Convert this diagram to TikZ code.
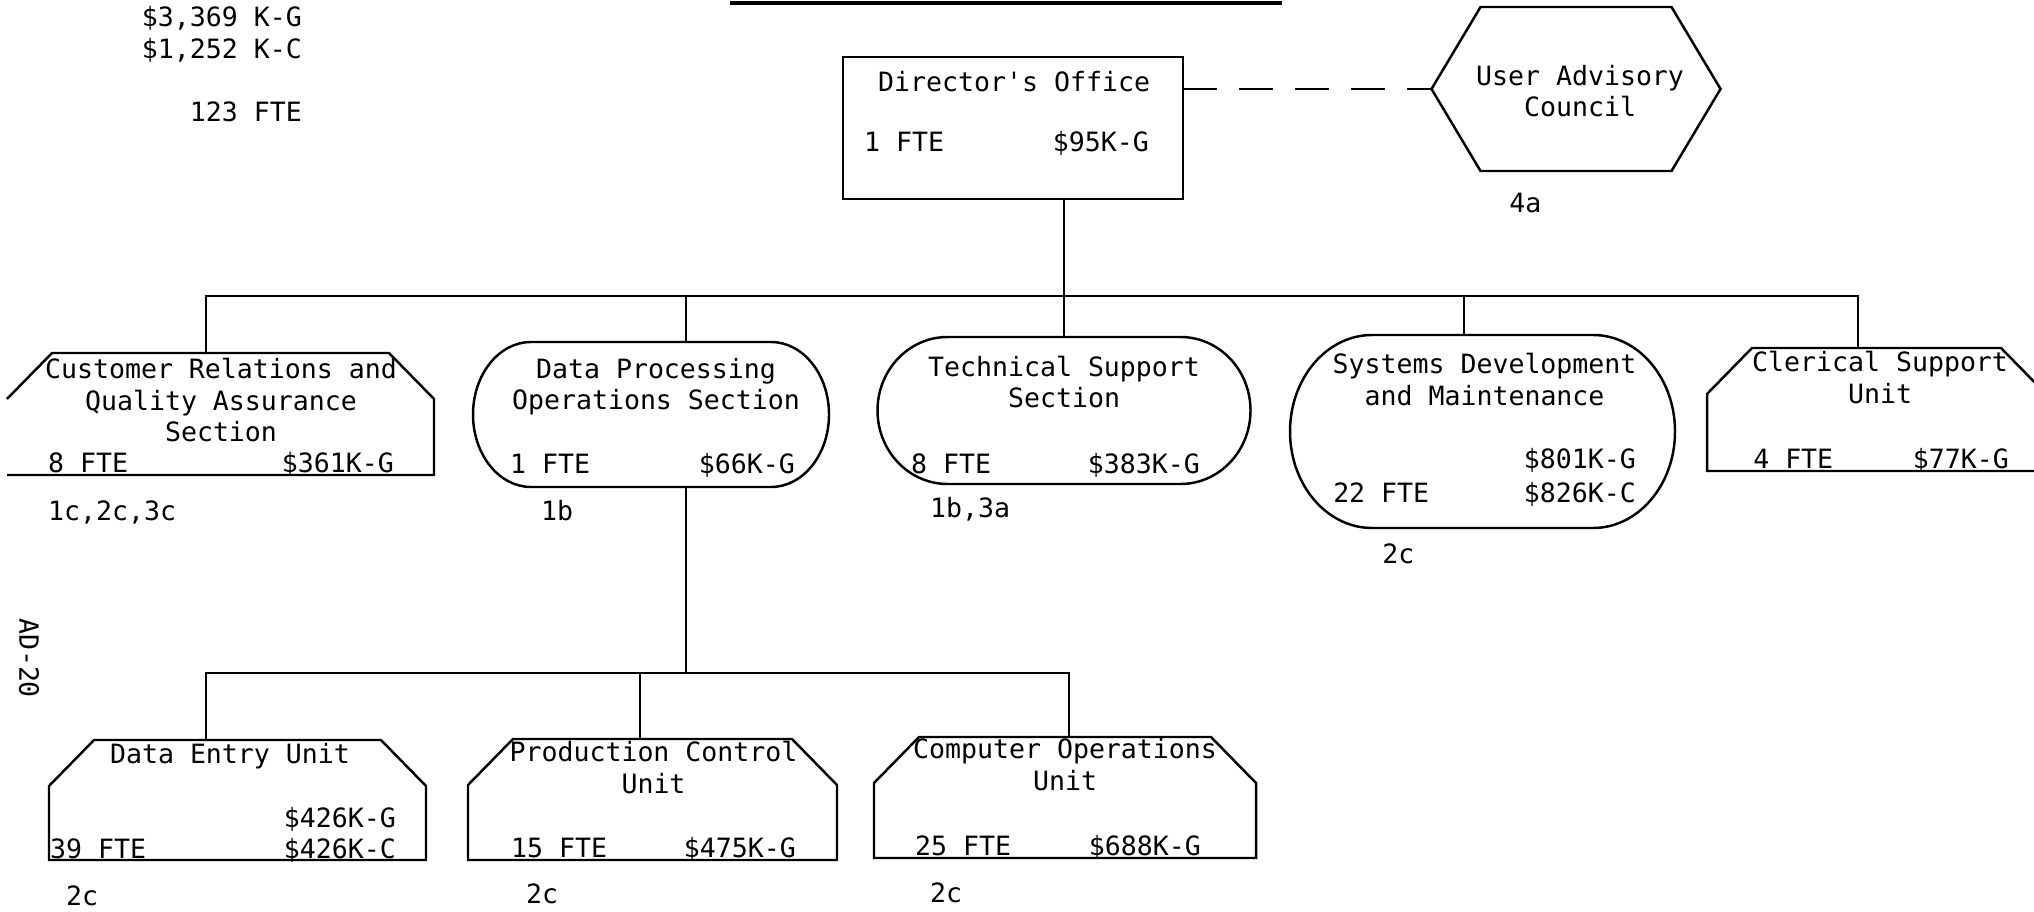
\documentclass[tikz,border=0pt]{standalone}
\usepackage{fontspec}
\setmonofont{DejaVu Sans Mono}
\usetikzlibrary{calc}

\begin{document}
\begin{tikzpicture}[x=0.1mm,y=-0.1mm,line width=0.7pt]
  \tikzstyle{unit}=[inner sep=0pt,outer sep=0pt]
  \tikzstyle{txt}=[font=\ttfamily\fontsize{7.56}{9.1}\selectfont,inner sep=0pt]
  \tikzstyle{link}=[dash pattern=on 3.4mm off 2.2mm]

  \clip (0,0) rectangle (2034,912);

  % totals and page mark
  \node[txt,align=right,anchor=base east] (total) at (303,122) {\$3,369 K-G\\\$1,252 K-C\\[9.1pt]123 FTE};
  \node[txt,rotate=-90] (page) at (29,658) {AD-20};
  \draw[line width=1.1pt] (730,3) -- (1282,3);

  % unit outlines
  \node[unit,draw,minimum width=34mm,minimum height=14.2mm] (dir) at (1013,128) {};
  \node[unit,minimum width=28.9mm,minimum height=16.4mm]    (uac) at (1576,89) {};
  \node[unit,minimum width=42.7mm,minimum height=12.2mm]    (cr)  at (220.5,414) {};
  \node[unit,minimum width=35.6mm,minimum height=14.5mm]    (dp)  at (651,414.5) {};
  \node[unit,minimum width=37.3mm,minimum height=14.7mm]    (ts)  at (1064,410.5) {};
  \node[unit,minimum width=38.5mm,minimum height=19.3mm]    (sd)  at (1482.5,431.5) {};
  \node[unit,minimum width=33.9mm,minimum height=12.3mm]    (cs)  at (1876.5,409.5) {};
  \node[unit,minimum width=37.7mm,minimum height=12.0mm]    (de)  at (237.5,800) {};
  \node[unit,minimum width=36.9mm,minimum height=12.1mm]    (pc)  at (652.5,799.5) {};
  \node[unit,minimum width=38.2mm,minimum height=12.1mm]    (co)  at (1065,797.5) {};

  \draw (uac.west) -- ($(uac.north west)+(49,0)$) -- ($(uac.north east)+(-49,0)$) -- (uac.east)
    -- ($(uac.south east)+(-49,0)$) -- ($(uac.south west)+(49,0)$) -- cycle;

  \foreach \n in {cs,de,pc,co}
    \draw ($(\n.north west)+(45,0)$) -- ($(\n.north east)+(-45,0)$) -- ($(\n.north east)+(0,46)$)
      -- (\n.south east) -- (\n.south west) -- ($(\n.north west)+(0,46)$) -- cycle;
  \draw ($(cr.north west)+(0,46)$) -- ($(cr.north west)+(45,0)$) -- ($(cr.north east)+(-45,0)$)
    -- ($(cr.north east)+(0,46)$) -- (cr.south east) -- (cr.south west);

  \foreach \n/\r in {dp/58,ts/70,sd/82}
    \draw ($(\n.north west)+(\r,0)$) -- ($(\n.north east)+(-\r,0)$)
      .. controls ($(\n.north east)+(-0.448*\r,0)$) and ($(\n.east)!0.552!(\n.north east)$) .. (\n.east)
      .. controls ($(\n.east)!0.552!(\n.south east)$) and ($(\n.south east)+(-0.448*\r,0)$) .. ($(\n.south east)+(-\r,0)$)
      -- ($(\n.south west)+(\r,0)$)
      .. controls ($(\n.south west)+(0.448*\r,0)$) and ($(\n.west)!0.552!(\n.south west)$) .. (\n.west)
      .. controls ($(\n.west)!0.552!(\n.north west)$) and ($(\n.north west)+(0.448*\r,0)$) .. ($(\n.north west)+(\r,0)$)
      -- cycle;

  % texts (a multi-line node sits on the baseline of its last line)
  \node[txt,anchor=base west] (dir-name) at (877,92)  {Director's Office};
  \node[txt,anchor=base west] (dir-fte)  at (863,152) {1 FTE};
  \node[txt,anchor=base east] (dir-g)    at (1150,152) {\$95K-G};

  \node[txt,align=center,anchor=base] (uac-name) at (1580,117) {User Advisory\\Council};
  \node[txt,anchor=base west] (uac-ref) at (1508,213) {4a};

  \node[txt,align=center,anchor=base] (cr-name) at (221,442) {Customer Relations and\\Quality Assurance\\Section};
  \node[txt,anchor=base west] (cr-fte) at (47,472)  {8 FTE};
  \node[txt,anchor=base east] (cr-g)   at (395,472) {\$361K-G};
  \node[txt,anchor=base west] (cr-ref) at (47,520)  {1c,2c,3c};

  \node[txt,align=center,anchor=base] (dp-name) at (656,410) {Data Processing\\Operations Section};
  \node[txt,anchor=base west] (dp-fte) at (509,473) {1 FTE};
  \node[txt,anchor=base east] (dp-g)   at (796,473) {\$66K-G};
  \node[txt,anchor=base west] (dp-ref) at (540,520) {1b};

  \node[txt,align=center,anchor=base] (ts-name) at (1064,408) {Technical Support\\Section};
  \node[txt,anchor=base west] (ts-fte) at (910,473)  {8 FTE};
  \node[txt,anchor=base east] (ts-g)   at (1201,473) {\$383K-G};
  \node[txt,anchor=base west] (ts-ref) at (929,517)  {1b,3a};

  \node[txt,align=center,anchor=base] (sd-name) at (1484.5,405) {Systems Development\\and Maintenance};
  \node[txt,anchor=base east] (sd-g)   at (1637,468) {\$801K-G};
  \node[txt,anchor=base west] (sd-fte) at (1332,502) {22 FTE};
  \node[txt,anchor=base east] (sd-c)   at (1637,502) {\$826K-C};
  \node[txt,anchor=base west] (sd-ref) at (1381,563) {2c};

  \node[txt,align=center,anchor=base] (cs-name) at (1880,403) {Clerical Support\\Unit};
  \node[txt,anchor=base west] (cs-fte) at (1752,468) {4 FTE};
  \node[txt,anchor=base east] (cs-g)   at (2010,468) {\$77K-G};

  \node[txt,anchor=base] (de-name) at (230,763) {Data Entry Unit};
  \node[txt,anchor=base east] (de-g)   at (397,827) {\$426K-G};
  \node[txt,anchor=base west] (de-fte) at (49,858)  {39 FTE};
  \node[txt,anchor=base east] (de-c)   at (397,858) {\$426K-C};
  \node[txt,anchor=base west] (de-ref) at (65,905)  {2c};

  \node[txt,align=center,anchor=base] (pc-name) at (653.5,793) {Production Control\\Unit};
  \node[txt,anchor=base west] (pc-fte) at (510,857) {15 FTE};
  \node[txt,anchor=base east] (pc-g)   at (797,857) {\$475K-G};
  \node[txt,anchor=base west] (pc-ref) at (525,903) {2c};

  \node[txt,align=center,anchor=base] (co-name) at (1065,790) {Computer Operations\\Unit};
  \node[txt,anchor=base west] (co-fte) at (914,855)  {25 FTE};
  \node[txt,anchor=base east] (co-g)   at (1202,855) {\$688K-G};
  \node[txt,anchor=base west] (co-ref) at (929,902)  {2c};

  % connectors
  \foreach \n/\d in {cr/-14.5,dp/35,sd/-18.5,cs/-18.5,de/-31.5,pc/-12.5,co/4}
    \coordinate (\n-in) at ($(\n.north)+(\d,0)$);
  \coordinate (bus)  at (1064,296);
  \coordinate (bus2) at (688,673);

  \draw (dir.south -| ts.north) -- (ts.north);
  \draw (cr-in) |- (bus) -| (cs-in);
  \foreach \n in {dp,sd}
    \draw (\n-in) -- (\n-in |- bus);
  \draw (dp.south -| dp-in) -- (dp-in |- bus2);
  \draw (de-in) |- (bus2) -| (co-in);
  \draw (pc-in) -- (pc-in |- bus2);
  \draw[link] (dir.east |- uac.west) -- (uac.west);
\end{tikzpicture}
\end{document}
